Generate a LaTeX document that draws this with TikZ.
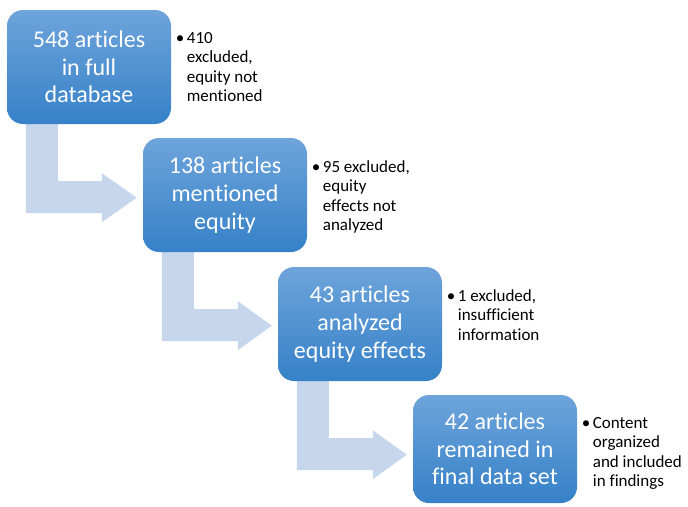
\documentclass[tikz,border=0pt]{standalone}
\usepackage{fontspec}
\setmainfont{Carlito}[Ligatures={NoCommon}]
\usetikzlibrary{calc,backgrounds}
\definecolor{boxtop}{RGB}{110,164,219}
\definecolor{boxbot}{RGB}{54,129,200}
\definecolor{arrowfill}{RGB}{198,215,237}
\tikzset{
  stepbox/.style={rounded corners=16pt, top color=boxtop, bottom color=boxbot, draw=none,
    minimum width=164pt, minimum height=114pt, inner sep=0pt, align=center, text=white,
    font=\fontsize{24}{27.7}\selectfont},
  sidenote/.style={anchor=north west, inner sep=0pt, align=left, text=black,
    font=\fontsize{17}{19.4}\selectfont},
  bentarrow/.style={fill=arrowfill, draw=none}
}
\newcommand{\bul}{\llap{•\kern2.5pt}}
\begin{document}
\begin{tikzpicture}[x=1pt,y=-1pt]
\useasboundingbox (0,0) rectangle (688,506);
% boxes
\node[stepbox] (b1) at (89,67) {548 articles\\in full\\database};
\node[stepbox] (b2) at (225,195) {138 articles\\mentioned\\equity};
\node[stepbox] (b3) at (360,324) {43 articles\\analyzed\\equity effects};
\node[stepbox, minimum height=108pt] (b4) at (495,449) {42 articles\\remained in\\final data set};
% bent arrows behind the boxes
\begin{scope}[on background layer]
\foreach \a/\b in {b1/b2, b2/b3, b3/b4}{
  \fill[bentarrow]
    ($(\a.south west)+(19,-5)$) -- ($(\a.south west)+(51,-5)$) --
    ($(\a.south west)+(51,57)$) -- ($(\a.south west)+(95,57)$) --
    ($(\a.south west)+(95,49)$) -- ($(\b.west |- \a.south)+(-6,73.5)$) --
    ($(\a.south west)+(95,98)$) -- ($(\a.south west)+(95,89)$) --
    ($(\a.south west)+(19,89)$) -- cycle;
}
\end{scope}
% side notes
\node[sidenote] (n1) at ($(b1.north east)+(15.5,22.5)$) {\bul 410\\excluded,\\equity not\\mentioned};
\node[sidenote] (n2) at ($(b2.north east)+(15.5,22.5)$) {\bul 95 excluded,\\equity\\effects not\\analyzed};
\node[sidenote] (n3) at ($(b3.north east)+(15.5,22.5)$) {\bul 1 excluded,\\insufficient\\information};
\node[sidenote] (n4) at ($(b4.north east)+(15.5,22.5)$) {\bul Content\\organized\\and included\\in findings};
\end{tikzpicture}
\end{document}
